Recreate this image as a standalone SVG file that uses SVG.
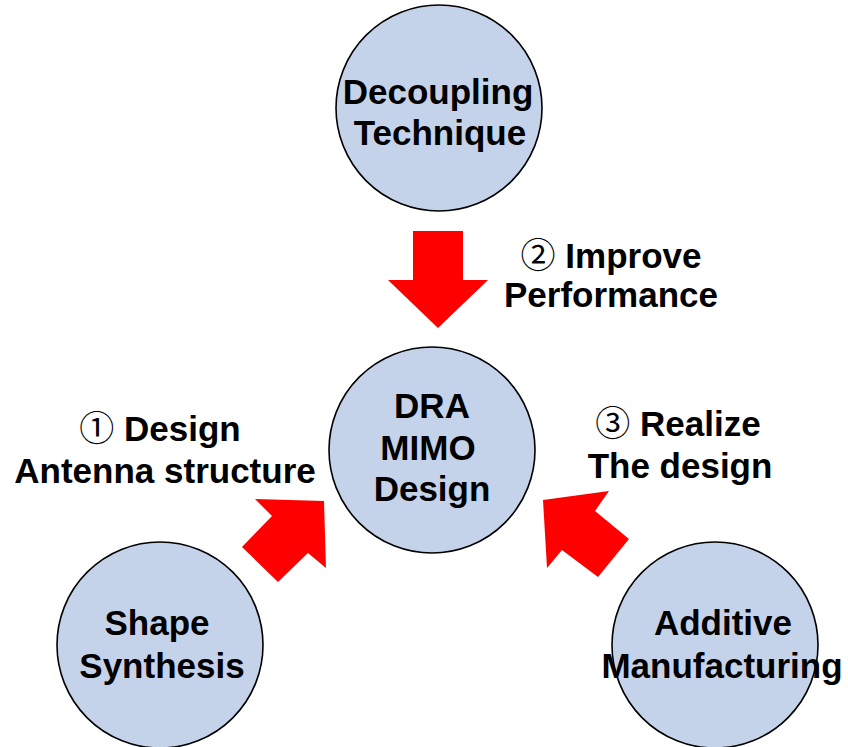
<svg xmlns="http://www.w3.org/2000/svg" width="848" height="747" viewBox="0 0 848 747">
<style>
.node{fill:#C5D3EA;stroke:#000;stroke-width:1.6}
.t{font-family:"Liberation Sans",Arial,sans-serif;font-weight:bold;font-size:35px;fill:#000;text-anchor:middle}
.n{font-family:"Noto Sans CJK SC","DejaVu Sans",sans-serif;font-weight:normal}
.arr{fill:#FF0000}
</style>
<rect width="848" height="747" fill="#fff"/>
<g id="connectors">
<polygon class="arr" points="413,231 463,231 463,280 488,280 438,328 388,280 413,280"/>
<polygon class="arr" points="324,501 326,568 308,553 278,582 242,547 272,516 255,499"/>
<polygon class="arr" points="543,500 609,491 595,511 629,539 598,577 562,550 547,568"/>
</g>
<g id="decoupling">
<circle class="node" cx="439" cy="108" r="103"/>
<text class="t" x="438" y="104">Decoupling</text>
<text class="t" x="440" y="145">Technique</text>
</g>
<g id="dra">
<circle class="node" cx="432" cy="450" r="103"/>
<text class="t" x="432" y="418">DRA</text>
<text class="t" x="428" y="460">MIMO</text>
<text class="t" x="432" y="501">Design</text>
</g>
<g id="shape">
<circle class="node" cx="160" cy="645" r="103"/>
<text class="t" x="157" y="635">Shape</text>
<text class="t" x="162" y="678">Synthesis</text>
</g>
<g id="additive">
<circle class="node" cx="715" cy="645" r="103"/>
<text class="t" x="723" y="635">Additive</text>
<text class="t" x="722" y="678">Manufacturing</text>
</g>
<g id="labels">
<text class="t" x="611" y="268"><tspan class="n">②</tspan> Improve</text>
<text class="t" x="611" y="307">Performance</text>
<text class="t" x="160" y="441"><tspan class="n">①</tspan> Design</text>
<text class="t" x="165" y="483">Antenna structure</text>
<text class="t" x="678" y="436"><tspan class="n">③</tspan> Realize</text>
<text class="t" x="680" y="478">The design</text>
</g>
</svg>
